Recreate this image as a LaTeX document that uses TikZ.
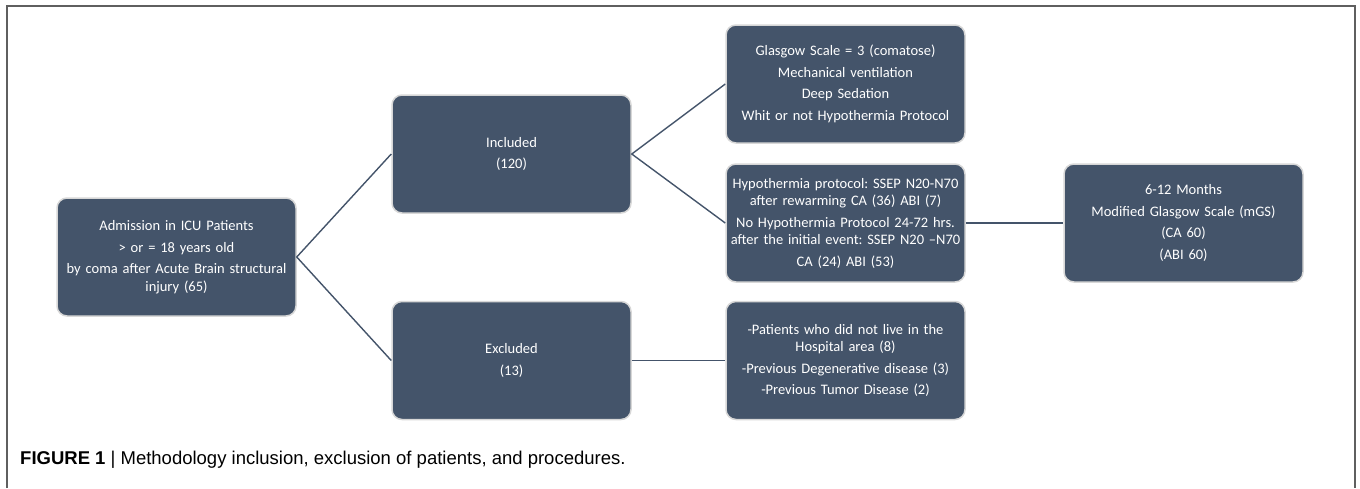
\documentclass[tikz,border=0pt]{standalone}
\usepackage{fontspec}
\setmainfont{Carlito}
\newfontfamily\capfont{Liberation Sans}
\usepackage{tikz}
\usetikzlibrary{positioning}
\usepackage{xcolor}
\definecolor{SlateB} {RGB}{68,  84, 106}
\definecolor{HaloG}  {RGB}{215,215, 215}
\definecolor{FrameG} {RGB}{95,  95,  95}
\frenchspacing

\begin{document}
\begin{tikzpicture}[x=1pt,y=-1pt,
    stagebox/.style={fill=SlateB,draw=HaloG,line width=1.5pt,rounded corners=10pt,
      minimum width=239pt,minimum height=118pt,text width=234pt,align=center,
      inner sep=0pt,text=white,font=\fontsize{14.5}{17.5}\selectfont},
    link/.style={SlateB,line width=1.4pt}]
  \useasboundingbox (0,0) rectangle (1360,488);
  \draw[FrameG,line width=1.5pt] (7,488)--(7,6)--(1355,6)--(1355,488);
  % boxes
  \node[stagebox] (admit) at (176.5,257)
    {Admission in ICU Patients\\[4pt] > or = 18 years old\\[4pt]
     by coma after Acute Brain structural\\ injury (65)};
  \node[stagebox] (incl) at (511.5,154) {Included\\[4pt] (120)};
  \node[stagebox] (excl) at (511.5,360.5) {Excluded\\[4pt] (13)};
  \node[stagebox] (glas) at (845.5,84)
    {Glasgow Scale = 3 (comatose)\\[4pt] Mechanical ventilation\\[4pt]
     Deep Sedation\\[4pt] Whit or not Hypothermia Protocol};
  \node[stagebox] (hypo) at (845.5,223)
    {Hypothermia protocol: SSEP N20-N70\\ after rewarming CA (36) ABI (7)\\[4pt]
     No Hypothermia Protocol 24-72 hrs.\\ after the initial event: SSEP N20 --N70\\[4pt]
     CA (24) ABI (53)};
  \node[stagebox] (detail) at (845.5,360.5)
    {-Patients who did not live in the\\ Hospital area (8)\\[4pt]
     -Previous Degenerative disease (3)\\[4pt] -Previous Tumor Disease (2)};
  \node[stagebox] (month) at (1183.5,223)
    {6-12 Months\\[4pt] Modified Glasgow Scale (mGS)\\[4pt] (CA 60)\\[4pt] (ABI 60)};
  % connectors
  \draw[link] (incl.west)--(admit.east)--(excl.west);
  \draw[link] (glas.west)--(incl.east)--(hypo.west);
  \draw[link] (hypo.east)--(month.west);
  \draw[link] (excl.east)--(detail.west);
  % caption
  \node[anchor=base west,inner sep=0pt,font=\capfont\fontsize{18.5}{20}\selectfont] (cap) at (20,464)
    {\textbf{FIGURE 1} | Methodology inclusion, exclusion of patients, and procedures.};
\end{tikzpicture}
\end{document}
